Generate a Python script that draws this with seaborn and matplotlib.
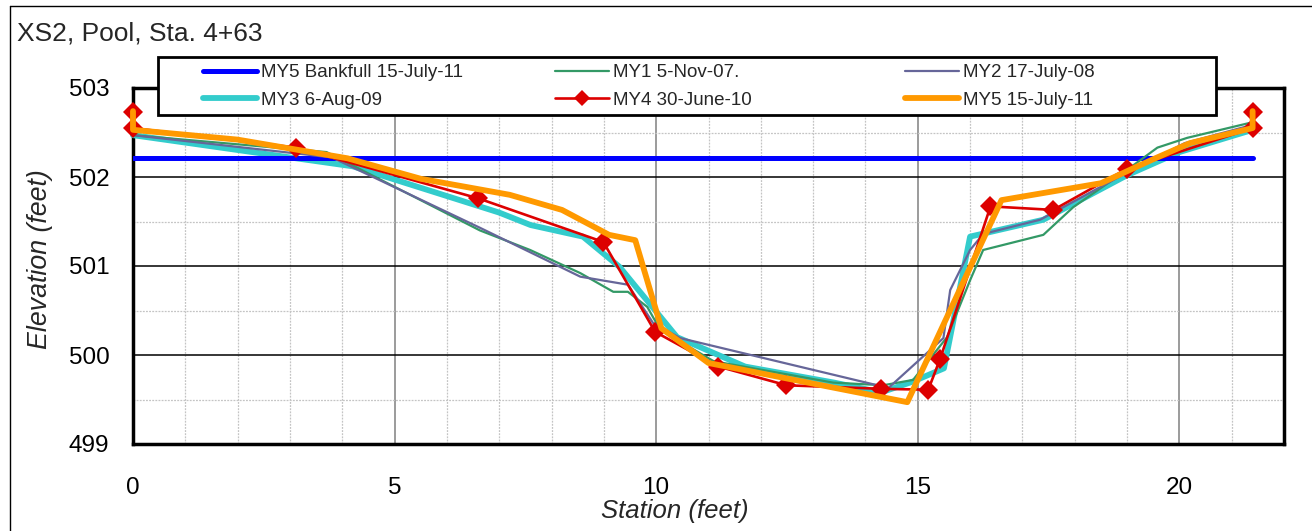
import matplotlib
matplotlib.use('Agg')
import matplotlib.pyplot as plt
import seaborn as sns
from matplotlib.lines import Line2D
from matplotlib.patches import Rectangle
from matplotlib.ticker import MultipleLocator

sns.set_style('white')
plt.rcParams['font.family'] = ['Liberation Sans', 'DejaVu Sans']

# bankfull elevation line
station_bkf = [0, 21.4]
elev_bkf = [502.21, 502.21]

# MY1 5-Nov-07.
station_my1 = [0, 3.7, 6.63, 7.59, 8.55, 9.18, 9.46, 9.83, 10.08, 11.1,
               13.38, 14.34, 14.91, 15.56, 16.0, 16.25, 17.4, 17.97, 19.0,
               19.58, 20.15, 21.36]
elev_my1 = [502.47, 502.28, 501.40, 501.18, 500.92, 500.71, 500.71, 500.54,
            500.28, 499.93, 499.69, 499.66, 499.72, 500.20, 500.84, 501.18,
            501.35, 501.66, 502.08, 502.33, 502.44, 502.61]

# MY2 17-July-08
station_my2 = [0, 3.8, 6.63, 8.55, 9.46, 9.94, 10.46, 14.44, 15.49, 15.62,
               16.0, 16.25, 17.34, 19.0, 20.1, 21.36]
elev_my2 = [502.47, 502.22, 501.43, 500.88, 500.79, 500.36, 500.19, 499.63,
            500.19, 500.73, 501.18, 501.36, 501.52, 502.05, 502.38, 502.58]

# MY3 6-Aug-09
station_my3 = [0, 4.2, 7.0, 7.6, 8.6, 9.3, 10.4, 11.7, 13.4, 14.3, 14.9,
               15.5, 16.0, 17.4, 19.0, 20.0, 21.4]
elev_my3 = [502.47, 502.12, 501.60, 501.46, 501.33, 500.99, 500.20, 499.87,
            499.69, 499.58, 499.70, 499.85, 501.33, 501.52, 502.02, 502.28,
            502.53]

# MY4 30-June-10
station_my4 = [0, 0, 3.12, 6.60, 8.99, 9.98, 11.19, 12.49, 14.30, 15.20,
               15.43, 16.39, 17.59, 18.99, 21.40, 21.40]
elev_my4 = [502.73, 502.55, 502.33, 501.76, 501.27, 500.26, 499.87, 499.66,
            499.62, 499.61, 499.96, 501.67, 501.63, 502.09, 502.55, 502.73]

# MY5 15-July-11
station_my5 = [0, 0, 2.0, 4.1, 5.5, 7.2, 8.2, 9.1, 9.6, 10.1, 11.0, 14.8,
               16.6, 18.5, 19.5, 20.2, 21.4, 21.4]
elev_my5 = [502.74, 502.53, 502.42, 502.21, 501.98, 501.80, 501.63, 501.35,
            501.29, 500.30, 499.91, 499.47, 501.74, 501.93, 502.20, 502.38,
            502.55, 502.74]

W, H = 1312, 531
fig = plt.figure(figsize=(W / 100, H / 100), dpi=100)
ax = fig.add_axes([133 / W, 1 - 444 / H, (1284 - 133) / W, (444 - 88) / H])

sns.lineplot(x=station_bkf, y=elev_bkf, sort=False, estimator=None, ax=ax,
             color='#0000FF', lw=3.6, label='MY5 Bankfull 15-July-11',
             zorder=3, solid_capstyle='round')
sns.lineplot(x=station_my1, y=elev_my1, sort=False, estimator=None, ax=ax,
             color='#339966', lw=1.6, label='MY1 5-Nov-07.', zorder=4,
             clip_on=False)
sns.lineplot(x=station_my2, y=elev_my2, sort=False, estimator=None, ax=ax,
             color='#666699', lw=1.6, label='MY2 17-July-08', zorder=4,
             clip_on=False)
sns.lineplot(x=station_my3, y=elev_my3, sort=False, estimator=None, ax=ax,
             color='#33CCCC', lw=4.2, label='MY3 6-Aug-09', zorder=2.5,
             clip_on=False)
sns.lineplot(x=station_my4, y=elev_my4, sort=False, estimator=None, ax=ax,
             color='#DD0000', lw=1.9, marker='D', markersize=10,
             markeredgewidth=0, label='MY4 30-June-10', zorder=5,
             clip_on=False)
sns.lineplot(x=station_my5, y=elev_my5, sort=False, estimator=None, ax=ax,
             color='#FF9900', lw=4.2, label='MY5 15-July-11', zorder=6,
             clip_on=False)

ax.set_xlim(0, 22)
ax.set_ylim(499, 503)
ax.xaxis.set_major_locator(MultipleLocator(5))
ax.xaxis.set_minor_locator(MultipleLocator(1))
ax.yaxis.set_major_locator(MultipleLocator(1))
ax.yaxis.set_minor_locator(MultipleLocator(0.5))

ax.set_axisbelow(True)
ax.grid(which='minor', color='#c4c4c4', ls=(0, (1.5, 1)), lw=0.9)
ax.grid(which='major', axis='x', color='#808080', lw=1.1)
ax.grid(which='major', axis='y', color='black', lw=1.1)

for sp in ax.spines.values():
    sp.set_color('black')
    sp.set_linewidth(2.5)
    sp.set_zorder(2)

ax.tick_params(which='major', direction='out', length=6, width=1.2,
               color='black', labelsize=17.5, labelcolor='black')
ax.tick_params(which='minor', direction='in', length=4, width=1,
               color='black')
ax.tick_params(axis='x', which='major', pad=18)
ax.tick_params(axis='y', which='major', pad=11)

ax.set_xlabel('Station (feet)', fontsize=18.5, fontstyle='italic')
ax.set_ylabel('Elevation (feet)', fontsize=19.3, fontstyle='italic')
ax.xaxis.set_label_coords((675 - 133) / 1151, -0.155)
ax.yaxis.set_label_coords((53 - 133) / 1151, 0.52)

fig.text(17 / W, 1 - 41 / H, 'XS2, Pool, Sta. 4+63', fontsize=19,
         va='baseline', ha='left')

# legend: frame box plus three frameless columns
handles, labels = ax.get_legend_handles_labels()
if ax.get_legend() is not None:
    ax.get_legend().remove()
lookup = dict(zip(labels, handles))
columns = [
    (203, ['MY5 Bankfull 15-July-11', 'MY3 6-Aug-09']),
    (555, ['MY1 5-Nov-07.', 'MY4 30-June-10']),
    (905, ['MY2 17-July-08', 'MY5 15-July-11']),
]
fig.add_artist(Rectangle((158 / W, 1 - 115 / H), (1216 - 158) / W, 58 / H,
                         transform=fig.transFigure, facecolor='white',
                         edgecolor='black', lw=2, zorder=10))
for x0, labs in columns:
    leg = fig.legend([lookup[l] for l in labs], labs, loc='upper left',
                     bbox_to_anchor=(x0 / W, 1 - 64 / H),
                     bbox_transform=fig.transFigure, frameon=False,
                     fontsize=13.5, borderpad=0, borderaxespad=0,
                     handlelength=2.9, handletextpad=0.2, labelspacing=0.55,
                     markerscale=0.8)
    leg.set_zorder(11)

# outer chart border (left and top edges visible)
fig.add_artist(Line2D([10 / W, 10 / W], [0, 1 - 6 / H],
                      transform=fig.transFigure, color='black', lw=1))
fig.add_artist(Line2D([10 / W, 1], [1 - 6 / H, 1 - 6 / H],
                      transform=fig.transFigure, color='black', lw=1))

fig.savefig('out.png', dpi=100)
